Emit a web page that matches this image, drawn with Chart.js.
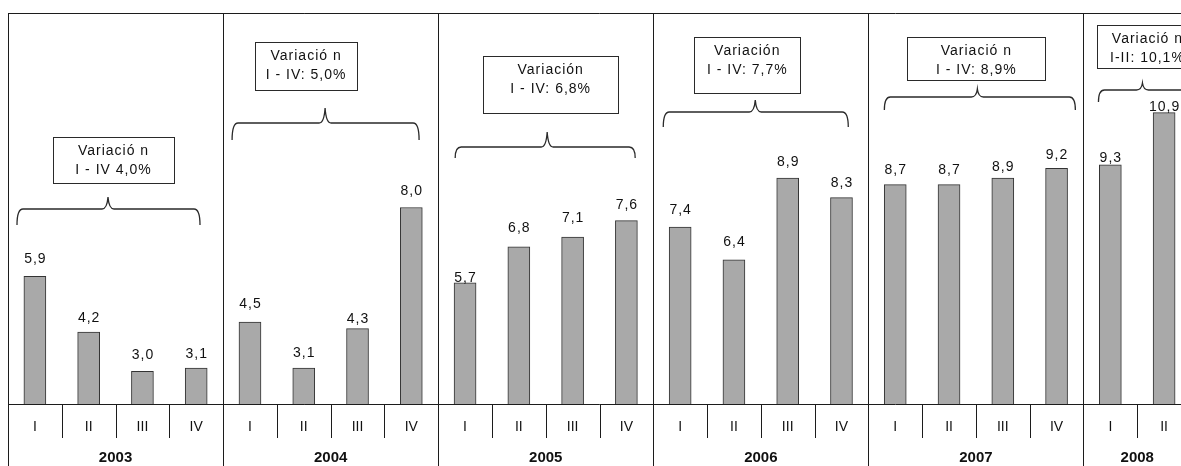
<!DOCTYPE html>
<html lang="es">
<head>
<meta charset="UTF-8">
<title>Variación trimestral 2003 - 2008</title>
<script src="https://cdn.jsdelivr.net/npm/chart.js@4"></script>
<style>
  html, body { margin: 0; padding: 0; background: #fff; overflow: hidden; }
  canvas { display: block; }
</style>
</head>
<body>
<canvas id="chart" width="1191" height="466"></canvas>
<script>
// data
const years = ['2003', '2004', '2005', '2006', '2007', '2008'];
const quartersPerYear = [4, 4, 4, 4, 4, 2];
const quarters = ['I', 'II', 'III', 'IV', 'I', 'II', 'III', 'IV', 'I', 'II', 'III', 'IV',
                  'I', 'II', 'III', 'IV', 'I', 'II', 'III', 'IV', 'I', 'II'];
const values = [5.9, 4.2, 3.0, 3.1, 4.5, 3.1, 4.3, 8.0, 5.7, 6.8, 7.1, 7.6,
                7.4, 6.4, 8.9, 8.3, 8.7, 8.7, 8.9, 9.2, 9.3, 10.9];
const variationTitles = ['Variació n', 'Variació n', 'Variación', 'Variación', 'Variació n', 'Variació n'];
const variationTexts = ['I - IV 4,0%', 'I - IV: 5,0%', 'I - IV: 6,8%', 'I - IV: 7,7%', 'I - IV: 8,9%', 'I-II: 10,1%'];

// layout of the notes (pixels, x measured from the year's left edge)
const boxLayout = [
  { left: 45, right: 166, top: 137, bottom: 183 },
  { left: 32, right: 134, top: 42, bottom: 90 },
  { left: 45, right: 180, top: 56, bottom: 113 },
  { left: 41, right: 147, top: 37, bottom: 93 },
  { left: 39, right: 177, top: 37, bottom: 80 },
  { left: 14, right: 114, top: 25, bottom: 68 }
];
const braceLayout = [
  { from: 9, to: 192, tip: 100, level: 209, foot: 225, peak: 197 },
  { from: 9, to: 196, tip: 102, level: 123, foot: 140, peak: 108 },
  { from: 17, to: 197, tip: 109, level: 147, foot: 158, peak: 132 },
  { from: 10, to: 195, tip: 102, level: 112, foot: 127, peak: 100 },
  { from: 16, to: 207, tip: 109, level: 97, foot: 110, peak: 89 },
  { from: 15, to: 112, tip: 59, level: 90, foot: 102, peak: 83 }
];
// gap between bar top and centre of its value label
const labelLift = [17, 14, 16, 14, 18, 15, 10, 16, 5, 19, 19, 15,
                   17, 18, 16, 15, 14, 14, 11, 13, 7, 5];

const FONT = '"Liberation Sans", Arial, sans-serif';
const INK = '#1c1c1c';

function fmt(v) {
  return v.toFixed(1).replace('.', ',');
}

function seg(ctx, x0, y0, x1, y1) {
  ctx.beginPath();
  ctx.moveTo(x0, y0);
  ctx.lineTo(x1, y1);
  ctx.stroke();
}

function brace(ctx, x0, x1, xc, yH, yEnd, yC) {
  const r = 6;
  ctx.beginPath();
  ctx.moveTo(x0, yEnd);
  ctx.quadraticCurveTo(x0, yH, x0 + r, yH);
  ctx.lineTo(xc - 6, yH);
  ctx.quadraticCurveTo(xc - 1, yH, xc, yC);
  ctx.quadraticCurveTo(xc + 1, yH, xc + 6, yH);
  ctx.lineTo(x1 - r, yH);
  ctx.quadraticCurveTo(x1, yH, x1, yEnd);
  ctx.stroke();
}

const decorations = {
  id: 'decorations',
  afterDatasetsDraw(chart) {
    const { ctx, chartArea: area, scales: { x } } = chart;
    const n = quarters.length;
    const catW = x.width / n;
    const edge = i => (i < n ? x.getPixelForValue(i) - catW / 2 : x.getPixelForValue(n - 1) + catW / 2);
    const crisp = v => Math.round(v) + 0.5;

    ctx.save();
    ctx.strokeStyle = INK;
    ctx.lineWidth = 1;

    // top frame and baseline
    seg(ctx, crisp(area.left), crisp(area.top), chart.width, crisp(area.top));
    seg(ctx, crisp(area.left), crisp(area.bottom), chart.width, crisp(area.bottom));

    // year start indexes
    const starts = [];
    let s = 0;
    quartersPerYear.forEach(q => { starts.push(s); s += q; });

    // quarter ticks and year separators
    for (let i = 0; i <= n; i++) {
      const ex = crisp(edge(i));
      if (starts.includes(i) || i === n) {
        seg(ctx, ex, area.top, ex, chart.height);
      } else {
        seg(ctx, ex, area.bottom, ex, area.bottom + 34);
      }
    }

    ctx.fillStyle = '#111';
    ctx.textAlign = 'center';
    ctx.textBaseline = 'middle';

    // quarter labels
    ctx.font = '14px ' + FONT;
    quarters.forEach((q, i) => {
      ctx.fillText(q, x.getPixelForValue(i), area.bottom + 23.5);
    });

    // year labels
    ctx.font = 'bold 15px ' + FONT;
    years.forEach((y, k) => {
      const a = edge(starts[k]);
      const b = edge(starts[k] + quartersPerYear[k]);
      ctx.fillText(y, (a + b) / 2, area.bottom + 54);
    });

    // value labels
    ctx.font = '14px ' + FONT;
    ctx.letterSpacing = '1px';
    const meta = chart.getDatasetMeta(0);
    meta.data.forEach((bar, i) => {
      ctx.fillText(fmt(values[i]), bar.x + 0.5, bar.y - labelLift[i]);
    });

    // variation notes
    years.forEach((y, k) => {
      const x0 = edge(starts[k]);
      const bx = boxLayout[k];
      ctx.strokeStyle = '#2a2a2a';
      ctx.strokeRect(crisp(x0 + bx.left), crisp(bx.top), Math.round(bx.right - bx.left), Math.round(bx.bottom - bx.top));
      const cx = x0 + (bx.left + bx.right) / 2;
      ctx.fillText(variationTitles[k], cx, bx.top + 14);
      ctx.fillText(variationTexts[k], cx, bx.top + 33);

      const br = braceLayout[k];
      ctx.lineWidth = 1.3;
      brace(ctx, x0 + br.from, x0 + br.to, x0 + br.tip, br.level, br.foot, br.peak);
      ctx.lineWidth = 1;
    });

    ctx.restore();
  }
};

new Chart(document.getElementById('chart'), {
  type: 'bar',
  data: {
    labels: quarters,
    datasets: [{
      data: values,
      backgroundColor: '#a9a9a9',
      borderColor: '#333',
      borderWidth: 1,
      borderSkipped: 'bottom',
      barThickness: 22
    }]
  },
  options: {
    responsive: false,
    animation: false,
    layout: { padding: { left: 8, right: 0, top: 13, bottom: 62 } },
    plugins: {
      legend: { display: false },
      tooltip: { enabled: false }
    },
    scales: {
      x: { display: false, offset: true },
      y: { display: false, min: 2, max: 13.94 }
    }
  },
  plugins: [decorations]
});
</script>
</body>
</html>
